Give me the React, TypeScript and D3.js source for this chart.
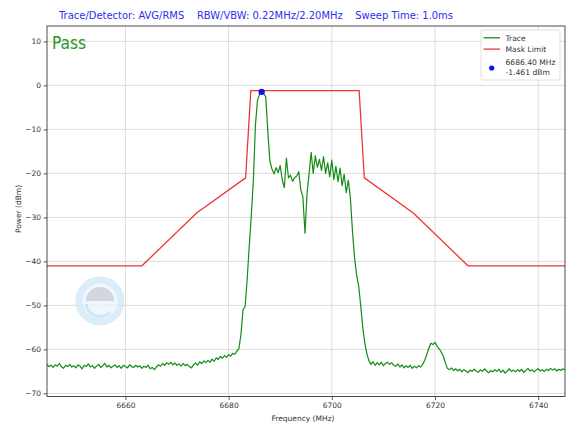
import React, { useEffect, useRef } from 'react';
import * as d3 from 'd3';

// sweep grid: first point + spacing (MHz), one power value per sweep point
const sweepStart = 6644.8;
const sweepStep = 0.4;

const tracePower = [
  -63.4, -63.9, -63.6, -64.1, -63.5, -63.8, -63.2, -63.9, -64.3, -63.6,
  -63.9, -63.4, -64.0, -63.7, -64.2, -63.5, -63.8, -64.4, -63.6, -63.9,
  -63.3, -64.0, -63.7, -64.3, -63.8, -63.4, -64.1, -63.7, -63.2, -64.0,
  -63.6, -64.2, -63.8, -63.5, -64.1, -63.7, -64.3, -63.6, -63.9, -64.2,
  -63.5, -63.9, -64.1, -63.6, -64.0, -63.7, -64.3, -63.8, -64.1, -63.6,
  -64.4, -64.1, -64.6, -64.0, -63.5, -63.8, -63.2, -63.6, -63.0, -63.4,
  -62.9, -63.5, -63.1, -63.6, -63.3, -63.8, -63.2, -63.7, -63.4, -63.9,
  -64.2, -63.5, -63.1, -63.6, -62.8, -63.2, -62.6, -63.0, -62.5, -62.9,
  -62.2, -62.7, -61.9, -62.3, -61.6, -62.0, -61.4, -61.8, -61.2, -61.5,
  -60.9, -61.1, -60.4, -59.8, -56.5, -51.0, -50.3, -44.0, -36.5, -29.5,
  -21.5, -9.0, -3.4, -2.0, -1.46, -1.9, -2.6, -10.5, -17.2, -19.0,
  -20.1, -18.7, -19.8, -18.2, -21.5, -23.2, -16.5, -21.0, -20.4, -21.8,
  -21.0, -20.6, -19.6, -23.8, -25.4, -33.6, -24.6, -20.0, -15.2, -20.0,
  -16.0, -18.6, -16.8, -19.3, -16.2, -20.0, -17.6, -20.8, -17.0, -21.4,
  -18.4, -21.9, -18.8, -22.8, -20.2, -24.4, -21.5, -25.6, -33.0, -39.0,
  -43.0, -45.5, -50.0, -55.0, -58.6, -61.0, -62.6, -63.4, -62.8, -63.6,
  -63.0, -63.5, -62.9, -63.7, -63.2, -62.9, -63.4, -63.0, -63.6, -63.8,
  -63.3, -64.0, -63.5, -64.2, -63.7, -64.1, -63.6, -64.3, -63.8, -64.2,
  -63.7, -64.0, -63.4, -62.5, -61.2, -59.8, -58.6, -58.9, -58.4, -59.3,
  -59.8, -60.6, -61.5, -63.0, -64.3, -64.6, -64.2, -64.8, -64.4, -64.9,
  -64.5, -65.1, -64.6, -64.9, -65.3, -64.7, -65.0, -64.5, -64.9, -65.2,
  -64.6, -65.0, -64.4, -64.9, -65.3, -64.8, -65.1, -64.6, -65.0, -64.5,
  -65.2, -64.7, -65.4, -64.9, -64.4, -65.0, -64.7, -65.1, -64.6, -65.0,
  -64.5, -65.2, -64.8, -64.3, -64.9, -64.6, -65.1, -64.7, -64.4, -64.9,
  -64.6, -65.0, -64.5, -64.8, -64.3, -64.7, -64.4, -64.9, -64.5, -64.8,
  -64.4, -64.7,
];

const maskFreq = [6644.8, 6663.2, 6673.8, 6683.3, 6684.3, 6705.3, 6706.3, 6715.8, 6726.4, 6745.2];
const maskPower = [-41, -41, -29, -21, -1.2, -1.2, -21, -29, -41, -41];

const peakFreq = 6686.4;
const peakPower = -1.461;

const xTicks = [6660, 6680, 6700, 6720, 6740];
const yTicks = [10, 0, -10, -20, -30, -40, -50, -60, -70];

const titleText = 'Trace/Detector: AVG/RMS    RBW/VBW: 0.22MHz/2.20MHz    Sweep Time: 1.0ms';
const legendLabels = ['Trace', 'Mask Limit'];
const markerLabel = [`${peakFreq.toFixed(2)} MHz`, `${peakPower.toFixed(3)} dBm`];

const W = 568;
const H = 425;
const plot = { left: 47, right: 565, top: 26, bottom: 396.5 };
const font = 'DejaVu Sans, sans-serif';

export default function App() {
  const ref = useRef<SVGSVGElement>(null);

  useEffect(() => {
    const svg = d3.select(ref.current);
    svg.selectAll('*').remove();

    const x = d3.scaleLinear().domain([6644.8, 6745.2]).range([plot.left, plot.right]);
    const y = d3.scaleLinear().domain([-70.7, 13.5]).range([plot.bottom, plot.top]);

    svg.append('rect').attr('width', W).attr('height', H).attr('fill', '#fff');

    svg.append('defs').append('clipPath').attr('id', 'plot-clip')
      .append('rect')
      .attr('x', plot.left).attr('y', plot.top)
      .attr('width', plot.right - plot.left).attr('height', plot.bottom - plot.top);

    // grid
    const grid = svg.append('g');
    xTicks.forEach(t => {
      grid.append('line')
        .attr('x1', x(t)).attr('x2', x(t)).attr('y1', plot.top).attr('y2', plot.bottom)
        .attr('stroke', '#d4d4d4').attr('stroke-width', 0.8);
    });
    yTicks.forEach(t => {
      grid.append('line')
        .attr('x1', plot.left).attr('x2', plot.right).attr('y1', y(t)).attr('y2', y(t))
        .attr('stroke', '#d4d4d4').attr('stroke-width', 0.8);
    });

    // watermark logo
    const logo = svg.append('g').attr('transform', 'translate(100,301)').attr('opacity', 0.75);
    logo.append('circle').attr('r', 21).attr('fill', '#eaf5fc').attr('stroke', '#cfe7f7').attr('stroke-width', 7);
    logo.append('path').attr('d', 'M-14,0 A14,14 0 0 1 14,0 Z').attr('fill', '#c3c8d2');
    logo.append('path').attr('d', 'M-14,3 A14,14 0 0 0 10,11').attr('fill', 'none').attr('stroke', '#bfe0f5').attr('stroke-width', 3);

    const area = svg.append('g').attr('clip-path', 'url(#plot-clip)');
    const line = d3.line<[number, number]>().x(d => x(d[0])).y(d => y(d[1]));

    const maskData = maskFreq.map((f, i) => [f, maskPower[i]] as [number, number]);
    const traceData = tracePower.map((p, i) => [sweepStart + i * sweepStep, p] as [number, number]);

    area.append('path').datum(traceData)
      .attr('fill', 'none').attr('stroke', '#148c14').attr('stroke-width', 1.2)
      .attr('stroke-linejoin', 'round')
      .attr('d', line);

    area.append('path').datum(maskData)
      .attr('fill', 'none').attr('stroke', '#ee3535').attr('stroke-width', 1.3)
      .attr('d', line);

    area.append('circle')
      .attr('cx', x(peakFreq)).attr('cy', y(peakPower)).attr('r', 3.2)
      .attr('fill', '#1010f0');

    // axes
    const xAxis = svg.append('g').attr('transform', `translate(0,${plot.bottom})`)
      .call(d3.axisBottom(x).tickValues(xTicks).tickSize(3.5).tickPadding(3).tickFormat(d => `${d}`));
    const yAxis = svg.append('g').attr('transform', `translate(${plot.left},0)`)
      .call(d3.axisLeft(y).tickValues(yTicks).tickSize(3.5).tickPadding(2.5)
        .tickFormat(d => `${d}`.replace('-', '\u2212')));
    [xAxis, yAxis].forEach(a => {
      a.select('.domain').remove();
      a.selectAll('line').attr('stroke', '#333').attr('stroke-width', 0.8);
      a.selectAll('text').attr('font-family', font).attr('font-size', 7.5).attr('fill', '#333');
    });

    svg.append('rect')
      .attr('x', plot.left).attr('y', plot.top)
      .attr('width', plot.right - plot.left).attr('height', plot.bottom - plot.top)
      .attr('fill', 'none').attr('stroke', '#222').attr('stroke-width', 0.8);

    svg.append('text')
      .attr('x', (plot.left + plot.right) / 2 - 3).attr('y', 421)
      .attr('text-anchor', 'middle').attr('font-family', font).attr('font-size', 7.5).attr('fill', '#333')
      .text('Frequency (MHz)');

    svg.append('text')
      .attr('transform', 'translate(21,209) rotate(-90)')
      .attr('text-anchor', 'middle').attr('font-family', font).attr('font-size', 7.5).attr('fill', '#333')
      .text('Power (dBm)');

    // title
    svg.append('text')
      .attr('x', 59).attr('y', 18.5)
      .attr('font-family', font).attr('font-size', 11).attr('fill', '#2e2ef0')
      .attr('textLength', 394).attr('lengthAdjust', 'spacingAndGlyphs')
      .attr('xml:space', 'preserve')
      .text(titleText);

    svg.append('text')
      .attr('x', 52).attr('y', 48.5)
      .attr('font-family', font).attr('font-size', 17.5).attr('fill', '#1f961f')
      .attr('textLength', 34).attr('lengthAdjust', 'spacingAndGlyphs')
      .text('Pass');

    // legend
    const lg = svg.append('g');
    lg.append('rect')
      .attr('x', 481).attr('y', 30).attr('width', 79).attr('height', 50).attr('rx', 2)
      .attr('fill', '#fff').attr('fill-opacity', 0.85).attr('stroke', '#d8d8d8').attr('stroke-width', 0.8);
    const legendColors = ['#148c14', '#ee3535'];
    legendLabels.forEach((lab, i) => {
      const yy = 37.8 + i * 11.3;
      lg.append('line').attr('x1', 483.5).attr('x2', 500).attr('y1', yy).attr('y2', yy)
        .attr('stroke', legendColors[i]).attr('stroke-width', 1.3);
      lg.append('text').attr('x', 505.5).attr('y', yy + 2.7)
        .attr('font-family', font).attr('font-size', 7.6).attr('fill', '#333').text(lab);
    });
    lg.append('circle').attr('cx', 491.7).attr('cy', 68).attr('r', 2.6).attr('fill', '#1010f0');
    markerLabel.forEach((lab, i) => {
      lg.append('text').attr('x', 505.5).attr('y', 65 + i * 10.4)
        .attr('font-family', font).attr('font-size', 7.6).attr('fill', '#333').text(lab);
    });
  }, []);

  return (
    <svg ref={ref} width={W} height={H}
      style={{ position: 'absolute', left: 0, top: 0, display: 'block' }} />
  );
}
